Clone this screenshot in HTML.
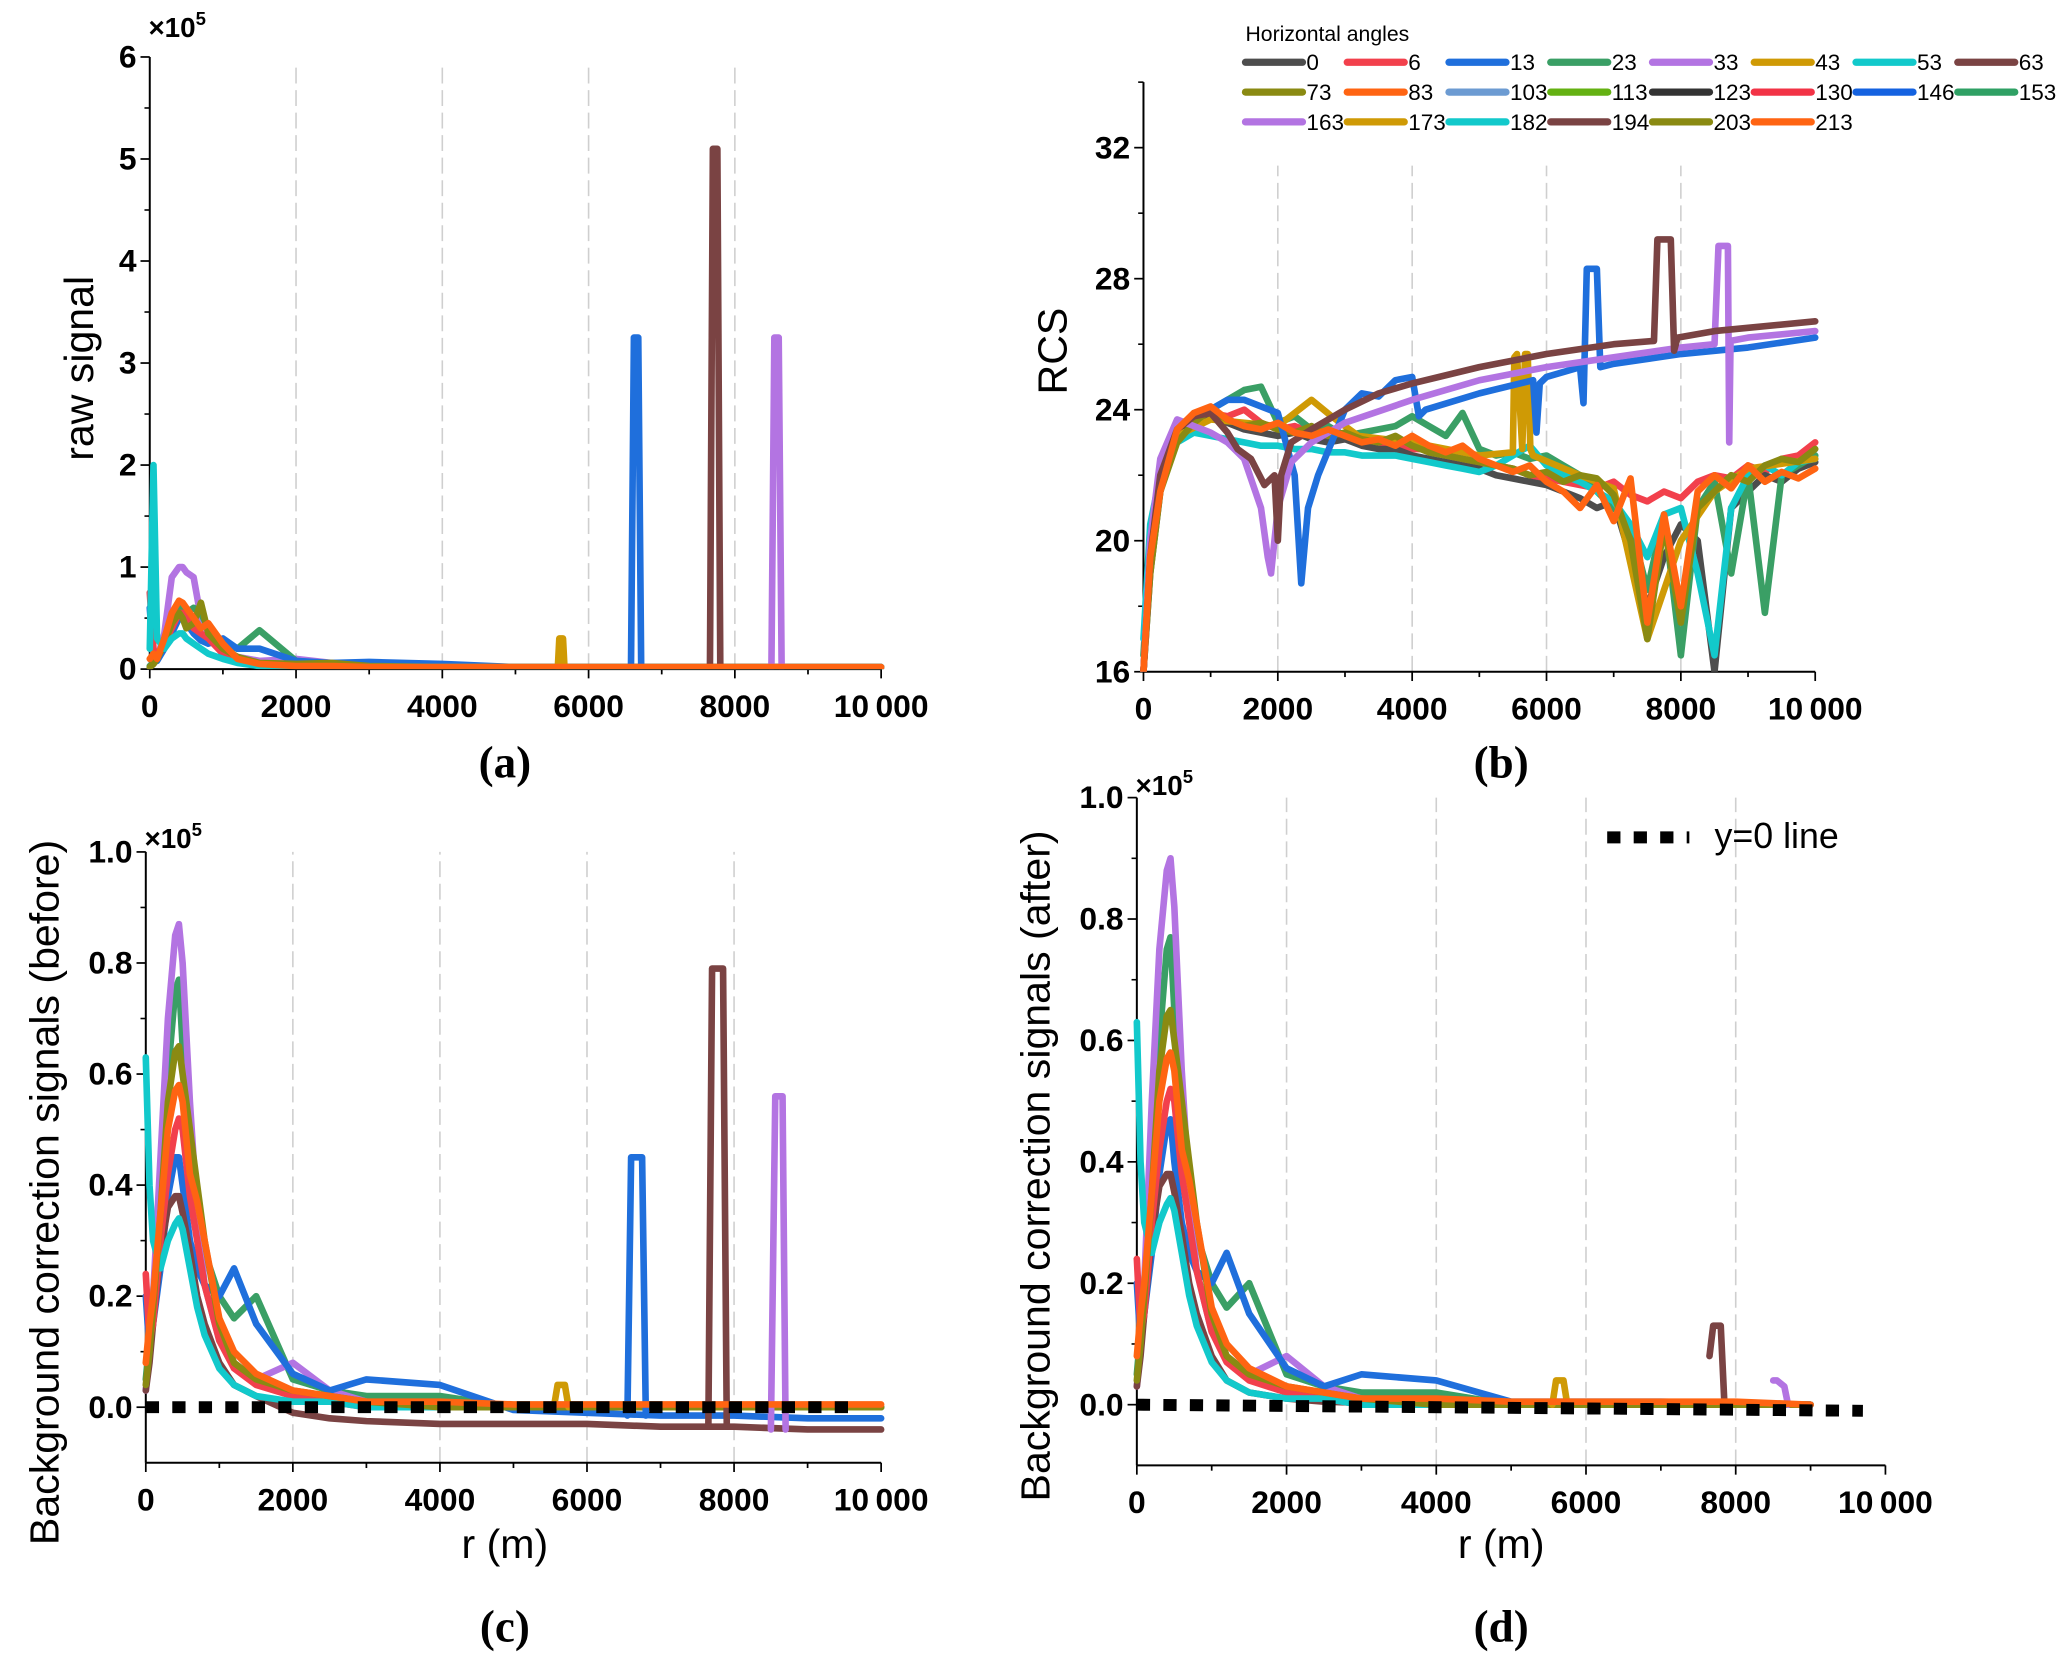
<!DOCTYPE html>
<html><head><meta charset="utf-8"><style>
html,body{margin:0;padding:0;background:#fff;}
svg{display:block;}
</style></head><body>
<svg id="fig" width="2067" height="1662" viewBox="0 0 1560 1254.4" xmlns="http://www.w3.org/2000/svg" font-family="Liberation Sans, sans-serif"></svg>
<script>
// ---------- DATA ----------
const rPeak = [0,50,100,200,300,400,450,500,600,700,800,1000,1200,1500,2000,2500,3000,4000,5000,6000,7000,8000,9000,10000];
const aPurple = [0.02,0.05,0.1,0.35,0.9,1.0,1.0,0.95,0.9,0.5,0.35,0.15,0.12,0.08,0.1,0.06,0.05,0.04,0.02,0.02,0.02,0.02,0.02,0.02];
const aGreen = [0.03,0.06,0.1,0.3,0.5,0.6,0.6,0.55,0.6,0.55,0.4,0.25,0.2,0.38,0.08,0.05,0.04,0.03,0.02,0.02,0.02,0.02,0.02,0.02];
const aOlive = [0.02,0.05,0.1,0.25,0.45,0.55,0.5,0.4,0.45,0.65,0.35,0.2,0.12,0.06,0.05,0.06,0.03,0.02,0.02,0.02,0.02,0.02,0.02,0.02];
const aBlue = [0.6,0.1,0.08,0.2,0.35,0.5,0.5,0.45,0.35,0.28,0.25,0.3,0.2,0.2,0.08,0.06,0.07,0.05,0.02,0.02,0.02,0.02,0.02,0.02];
const aCyan = [0.2,2.0,0.3,0.2,0.3,0.35,0.35,0.3,0.25,0.2,0.15,0.1,0.06,0.03,0.02,0.02,0.02,0.02,0.02,0.02,0.02,0.02,0.02,0.02];
const aRed = [0.75,0.2,0.1,0.25,0.4,0.55,0.55,0.5,0.4,0.35,0.3,0.15,0.08,0.05,0.03,0.02,0.02,0.02,0.02,0.02,0.02,0.02,0.02,0.02];
const aOrange = [0.1,0.15,0.1,0.3,0.55,0.67,0.65,0.6,0.5,0.4,0.45,0.25,0.1,0.05,0.03,0.03,0.02,0.02,0.02,0.02,0.02,0.02,0.02,0.02];
const aSpikeBlueR = [6580,6620,6680,6720], aSpikeBlueV = [0.02,3.25,3.25,0.02];
const aSpikeBrownR = [7660,7700,7760,7800], aSpikeBrownV = [0.02,5.1,5.1,0.02];
const aSpikePurpleR = [8500,8540,8600,8640], aSpikePurpleV = [0.02,3.25,3.25,0.02];
const aSpikeGoldR = [5580,5600,5650,5670], aSpikeGoldV = [0.02,0.3,0.3,0.02];

const rB = [0,100,250,500,750,1000,1250,1500,1750,2000,2250,2500,2750,3000,3250,3500,3750,4000,4250,4500,4750,5000,5250,5500,5750,6000,6250,6500,6750,7000,7250,7500,7750,8000,8250,8500,8750,9000,9250,9500,9750,10000];
const bRed = [16,19.5,21.8,23.5,23.8,23.9,23.8,24.0,23.6,23.4,23.5,23.3,23.2,23.2,23.1,23.0,22.9,22.8,22.8,22.6,22.5,22.4,22.3,22.2,22.0,21.9,21.8,21.7,21.6,21.8,21.4,21.2,21.5,21.3,21.8,22.0,21.9,22.3,22.1,22.5,22.6,23.0];
const bGrey = [16,19,21.5,23.3,23.7,23.9,23.6,23.4,23.3,23.2,23.3,23.1,23.0,23.1,22.9,22.8,22.8,22.6,22.5,22.4,22.3,22.2,22.0,21.9,21.8,21.7,21.5,21.3,21.0,21.2,19.5,18.0,19.5,20.5,20.0,16.0,21.0,21.5,22.0,21.8,22.2,22.4];
const bGreen = [16.5,20,22,23.5,23.8,24.0,24.3,24.6,24.7,23.6,23.8,23.4,23.5,23.2,23.3,23.4,23.5,23.8,23.5,23.2,23.9,22.8,22.6,22.7,22.5,22.6,22.3,22.0,21.5,21.0,20.5,18.5,20.8,16.5,21.0,21.8,19.0,22.0,17.8,22.0,22.3,22.6];
const bCyan = [17,20.5,22,23.0,23.3,23.2,23.1,23.0,22.9,22.9,22.8,22.8,22.7,22.7,22.6,22.6,22.6,22.5,22.4,22.3,22.2,22.1,22.3,22.6,22.9,22.3,22.0,21.8,21.5,21.2,20.5,19.5,20.8,21.0,19.0,16.5,21.0,22.0,22.3,22.0,22.4,22.5];
const bOlive = [16,19,21.5,23.0,23.6,24.0,23.7,23.5,23.6,23.4,23.3,23.5,23.2,23.3,23.1,23.0,23.2,22.9,22.7,22.6,22.5,22.4,22.3,22.2,22.0,22.1,21.8,22.0,21.9,21.4,20.0,17.0,20.5,17.5,21.0,21.5,22.0,21.8,22.3,22.5,22.4,22.8];
const bOrange = [16,19.5,21.5,23.4,23.9,24.1,23.7,23.5,23.4,23.6,23.3,23.2,23.4,23.2,23.0,23.1,22.9,23.2,22.9,22.7,22.9,22.5,22.3,22.1,22.3,21.8,21.5,21.0,21.7,20.6,21.9,17.5,20.8,18.0,21.5,22.0,21.6,22.3,21.8,22.1,21.9,22.2];
const bGoldR = [0,100,250,500,1000,1500,2000,2500,2800,3200,4000,5000,5500,5520,5560,5640,5680,5720,5760,5800,6500,7000,7500,8000,8500,9000,10000];
const bGoldV = [16,19.5,22,23.2,23.7,23.6,23.5,24.3,23.8,23.2,23.0,22.6,22.7,25.6,25.7,22.8,25.7,25.7,22.8,22.6,22.0,21.6,17.0,20.0,21.5,22.2,22.5];
const bBlueR = [0,100,250,500,750,1000,1250,1500,2000,2250,2350,2450,2600,3000,3250,3500,3750,4000,4100,4200,5000,5800,5850,5900,6000,6500,6550,6600,6750,6800,7000,8000,9000,10000];
const bBlueV = [16,19.5,22,23.5,23.8,24.0,24.3,24.3,23.9,22.0,18.7,21.0,22.0,24.0,24.5,24.4,24.9,25.0,23.8,24.0,24.5,24.9,23.3,24.8,25.0,25.3,24.2,28.3,28.3,25.3,25.4,25.7,25.9,26.2];
const bPurpleR = [0,100,250,500,750,1000,1250,1500,1750,1850,1900,2000,2200,2500,3000,4000,5000,6000,7000,8000,8500,8560,8700,8720,8740,9000,10000];
const bPurpleV = [16,20,22.5,23.7,23.5,23.3,23.0,22.5,21.0,19.5,19.0,21.0,22.4,23.0,23.6,24.3,24.9,25.3,25.6,25.9,26.0,29.0,29.0,23.0,26.1,26.2,26.4];
const bBrownR = [0,100,250,500,750,1000,1250,1400,1600,1800,1950,2000,2050,2200,2500,3000,3500,4000,5000,6000,7000,7600,7650,7700,7850,7900,7950,8500,9000,10000];
const bBrownV = [16,19.5,22,23.4,23.8,23.9,23.3,22.8,22.5,21.7,22.0,20.0,22.0,23.0,23.4,24.0,24.5,24.8,25.3,25.7,26.0,26.1,29.2,29.2,29.2,25.8,26.2,26.4,26.5,26.7];

const cPurple = [0.03,0.1,0.2,0.45,0.7,0.85,0.87,0.8,0.55,0.35,0.22,0.12,0.08,0.05,0.08,0.03,0.01,0.0,0,0,0,0,0,0];
const cGreen = [0.05,0.12,0.2,0.4,0.6,0.75,0.77,0.65,0.45,0.33,0.28,0.2,0.16,0.2,0.05,0.03,0.02,0.02,0,0,0,0,0,0];
const cOlive = [0.04,0.1,0.18,0.35,0.55,0.64,0.65,0.6,0.5,0.4,0.3,0.15,0.08,0.05,0.03,0.02,0.01,0,0,0,0,0,0,0];
const cBlue = [0.2,0.1,0.15,0.25,0.38,0.45,0.45,0.4,0.3,0.25,0.22,0.2,0.25,0.15,0.06,0.03,0.05,0.04,-0.005,-0.01,-0.015,-0.015,-0.02,-0.02];
const cBrown = [0.03,0.08,0.15,0.28,0.36,0.38,0.38,0.35,0.28,0.2,0.15,0.08,0.04,0.02,-0.01,-0.02,-0.025,-0.03,-0.03,-0.03,-0.035,-0.035,-0.04,-0.04];
const cCyan = [0.63,0.4,0.3,0.25,0.3,0.33,0.34,0.32,0.25,0.18,0.13,0.07,0.04,0.02,0.01,0.01,0,0,0,0,0,0,0,0];
const cRed = [0.24,0.12,0.15,0.3,0.42,0.5,0.52,0.5,0.38,0.3,0.22,0.12,0.07,0.04,0.02,0.01,0,0,0,0,0,0,0,0];
const cOrange = [0.08,0.15,0.2,0.35,0.5,0.57,0.58,0.55,0.42,0.37,0.3,0.16,0.1,0.06,0.03,0.02,0.01,0.01,0.005,0.005,0.005,0.005,0.005,0.005];
const cSpikeBlueR = [6550,6600,6750,6800], cSpikeBlueV = [-0.015,0.45,0.45,-0.015];
const cSpikeBrownR = [7650,7700,7850,7900], cSpikeBrownV = [-0.035,0.79,0.79,-0.035];
const cSpikePurpleR = [8500,8560,8660,8700], cSpikePurpleV = [-0.04,0.56,0.56,-0.04];
const cSpikeGoldR = [5550,5600,5700,5750], cSpikeGoldV = [0,0.04,0.04,0];
const zeroLineR = [0,9700], cZeroV = [0,0], dZeroV = [0,-0.01];

const rPeakD = [0,50,100,200,300,400,450,500,600,700,800,1000,1200,1500,2000,2500,3000,4000,5000,6000,7000,8000,9000];
const dPurple = [0.03,0.1,0.2,0.5,0.75,0.88,0.9,0.82,0.55,0.35,0.22,0.12,0.08,0.05,0.08,0.03,0.01,0,0,0,0,0,0];
const dGreen = [0.05,0.12,0.2,0.4,0.6,0.75,0.77,0.65,0.45,0.33,0.28,0.2,0.16,0.2,0.05,0.03,0.02,0.02,0,0,0,0,0];
const dOlive = [0.04,0.1,0.18,0.35,0.55,0.64,0.65,0.6,0.5,0.4,0.3,0.15,0.08,0.05,0.03,0.02,0.01,0,0,0,0,0,0];
const dBlue = [0.2,0.1,0.15,0.25,0.38,0.46,0.47,0.4,0.3,0.25,0.22,0.2,0.25,0.15,0.06,0.03,0.05,0.04,0.005,0.005,0.005,0.003,0];
const dBrown = [0.03,0.08,0.15,0.28,0.36,0.38,0.38,0.35,0.28,0.2,0.15,0.08,0.04,0.02,0.01,0.005,0.003,0.002,0.002,0.002,0.002,0.002,0];
const dCyan = [0.63,0.4,0.3,0.25,0.3,0.33,0.34,0.32,0.25,0.18,0.13,0.07,0.04,0.02,0.01,0.01,0,0,0,0,0,0,0];
const dRed = [0.24,0.12,0.15,0.3,0.42,0.5,0.52,0.5,0.38,0.3,0.22,0.12,0.07,0.04,0.02,0.01,0,0,0,0,0,0,0];
const dOrange = [0.08,0.15,0.2,0.35,0.5,0.57,0.58,0.55,0.42,0.37,0.3,0.16,0.1,0.06,0.03,0.02,0.01,0.01,0.005,0.005,0.005,0.005,0];
const dSpikeBrownR = [7650,7700,7800,7850], dSpikeBrownV = [0.08,0.13,0.13,0];
const dSpikePurpleR = [8500,8550,8650,8700], dSpikePurpleV = [0.04,0.04,0.03,0];
const dSpikeGoldR = [5550,5600,5700,5750], dSpikeGoldV = [0,0.04,0.04,0];

const legendAngles = ["0","6","13","23","33","43","53","63","73","83","103","113","123","130","146","153","163","173","182","194","203","213"];
const legendColors = ["#4d4d4d","#f2404c","#1f6fdc","#3a9f65","#b374e2","#cf9a05","#12c9cb","#7a4343","#8a8a12","#ff6412","#6c9bd2","#64b112","#333333","#f23346","#1462e0","#2fa064","#b374e2","#cf9a05","#12c9cb","#7a4343","#8a8a12","#ff6412"];
const xTicks = [0,2000,4000,6000,8000,10000];
const xTickLabels = ["0","2000","4000","6000","8000","10\u2009000"];

// ---------- HELPERS ----------
const NS = "http://www.w3.org/2000/svg";
const svg = document.getElementById("fig");
function mk(tag, attrs, parent) {
  const e = document.createElementNS(NS, tag);
  for (const k in attrs) e.setAttribute(k, attrs[k]);
  (parent || svg).appendChild(e);
  return e;
}
function txt(s, attrs, parent) { const t = mk("text", attrs, parent); t.textContent = s; return t; }

const COL = {grey:"#4d4d4d", red:"#f2404c", blue:"#1f6fdc", green:"#3a9f65", purple:"#b374e2", gold:"#cf9a05", cyan:"#12c9cb", brown:"#7a4343", olive:"#8a8a12", orange:"#ff6412"};

function panel(p) {
  const g = mk("g", {});
  
  
  const sx = v => p.x0 + (v - 0) / 10000 * (p.x1 - p.x0);
  const sy = v => p.yb - (v - p.ymin) / (p.ymax - p.ymin) * (p.yb - p.yt);
  [2000,4000,6000,8000].forEach(v => {
    const l = mk("line", {x1:sx(v), x2:sx(v), y1:p.yb, y2:p.gridTop, stroke:"#cfcfcf", "stroke-width":1.2, "stroke-dasharray":"12,5"}, g);
    
    
  });
  const ya = mk("line", {x1:p.x0, x2:p.x0, y1:p.yb, y2:p.yt, stroke:"#000", "stroke-width":1.5}, g);
  
  
  const xa = mk("line", {x1:p.x0, x2:p.x1, y1:p.yb, y2:p.yb, stroke:"#000", "stroke-width":1.5}, g);
  
  
  for (let v = 0; v <= 10000; v += 1000) {
    const major = v % 2000 === 0;
    mk("line", {x1:sx(v), x2:sx(v), y1:p.yb, y2:p.yb + (major ? 7 : 4), stroke:"#000", "stroke-width":1.3}, g);
  }
  xTicks.forEach((v, i) => {
    const t = txt(xTickLabels[i], {x:sx(v), y:p.yb + 36, "text-anchor":"middle", "font-size":24, "font-weight":"bold"}, g);
    
    
  });
  p.yTicks.forEach((v, i) => {
    mk("line", {x1:p.x0, x2:p.x0 - 7, y1:sy(v), y2:sy(v), stroke:"#000", "stroke-width":1.3}, g);
    const t = txt(p.yLabels[i], {x:p.x0 - 10, y:sy(v) + 8, "text-anchor":"end", "font-size":24, "font-weight":"bold"}, g);
    
    
  });
  p.yMinor.forEach(v => mk("line", {x1:p.x0, x2:p.x0 - 4, y1:sy(v), y2:sy(v), stroke:"#000", "stroke-width":1.2}, g));
  const clipId = "clip-" + p.name;
  const cp = mk("clipPath", {id:clipId}, g);
  mk("rect", {x:p.x0 - 3, y:p.yt - 3, width:p.x1 - p.x0 + 6, height:p.yb - p.yt + 3}, cp);
  const sg = mk("g", {"clip-path":"url(#" + clipId + ")"}, g);
  p.series.forEach(s => {
    const d = s.r.map((r, i) => (i ? "L" : "M") + sx(r).toFixed(1) + "," + sy(s.v[i]).toFixed(1)).join("");
    const path = mk("path", {d:d, fill:"none", stroke:s.c, "stroke-width":s.w || 5, "stroke-linejoin":"round", "stroke-linecap":"round"}, sg);
    if (s.dash) { path.setAttribute("stroke-dasharray", s.dash); path.setAttribute("stroke-linecap", "butt"); }
    
    
  });
  return g;
}

// ---------- PANELS ----------
panel({name:"panel-a", x0:113, x1:665, yb:505, yt:43, gridTop:50, ymin:0, ymax:6,
  yTicks:[0,1,2,3,4,5,6], yLabels:["0","1","2","3","4","5","6"], yMinor:[0.5,1.5,2.5,3.5,4.5,5.5],
  series:[
    {n:"series-33", r:rPeak, v:aPurple, c:COL.purple},
    {n:"series-23", r:rPeak, v:aGreen, c:COL.green},
    {n:"series-13", r:rPeak, v:aBlue, c:COL.blue},
    {n:"series-6", r:rPeak, v:aRed, c:COL.red},
    {n:"series-73", r:rPeak, v:aOlive, c:COL.olive},
    {n:"series-53", r:rPeak, v:aCyan, c:COL.cyan},
    {n:"spike-43", r:aSpikeGoldR, v:aSpikeGoldV, c:COL.gold},
    {n:"spike-13", r:aSpikeBlueR, v:aSpikeBlueV, c:COL.blue},
    {n:"spike-63", r:aSpikeBrownR, v:aSpikeBrownV, c:COL.brown},
    {n:"spike-163", r:aSpikePurpleR, v:aSpikePurpleV, c:COL.purple},
    {n:"series-83", r:rPeak, v:aOrange, c:COL.orange}
  ]});

panel({name:"panel-b", x0:863, x1:1370, yb:507, yt:62, gridTop:125, ymin:16, ymax:34,
  yTicks:[16,20,24,28,32], yLabels:["16","20","24","28","32"], yMinor:[18,22,26,30,34],
  series:[
    {n:"series-6", r:rB, v:bRed, c:COL.red},
    {n:"series-0", r:rB, v:bGrey, c:COL.grey},
    {n:"series-23", r:rB, v:bGreen, c:COL.green},
    {n:"series-53", r:rB, v:bCyan, c:COL.cyan},
    {n:"series-43", r:bGoldR, v:bGoldV, c:COL.gold},
    {n:"series-73", r:rB, v:bOlive, c:COL.olive},
    {n:"series-13", r:bBlueR, v:bBlueV, c:COL.blue},
    {n:"series-33", r:bPurpleR, v:bPurpleV, c:COL.purple},
    {n:"series-63", r:bBrownR, v:bBrownV, c:COL.brown},
    {n:"series-83", r:rB, v:bOrange, c:COL.orange}
  ]});

panel({name:"panel-c", x0:110, x1:665, yb:1104, yt:643, gridTop:643, ymin:-0.1, ymax:1.0,
  yTicks:[0,0.2,0.4,0.6,0.8,1.0], yLabels:["0.0","0.2","0.4","0.6","0.8","1.0"], yMinor:[0.1,0.3,0.5,0.7,0.9],
  series:[
    {n:"series-23", r:rPeak, v:cGreen, c:COL.green},
    {n:"series-33", r:rPeak, v:cPurple, c:COL.purple},
    {n:"series-13", r:rPeak, v:cBlue, c:COL.blue},
    {n:"series-63", r:rPeak, v:cBrown, c:COL.brown},
    {n:"series-6", r:rPeak, v:cRed, c:COL.red},
    {n:"series-53", r:rPeak, v:cCyan, c:COL.cyan},
    {n:"series-73", r:rPeak, v:cOlive, c:COL.olive},
    {n:"spike-43", r:cSpikeGoldR, v:cSpikeGoldV, c:COL.gold},
    {n:"spike-13", r:cSpikeBlueR, v:cSpikeBlueV, c:COL.blue},
    {n:"spike-63", r:cSpikeBrownR, v:cSpikeBrownV, c:COL.brown},
    {n:"spike-163", r:cSpikePurpleR, v:cSpikePurpleV, c:COL.purple},
    {n:"series-83", r:rPeak, v:cOrange, c:COL.orange},
    {n:"zero-line", r:zeroLineR, v:cZeroV, c:"#000", w:9, dash:"10,10"}
  ]});

panel({name:"panel-d", x0:858, x1:1423, yb:1106, yt:602, gridTop:602, ymin:-0.1, ymax:1.0,
  yTicks:[0,0.2,0.4,0.6,0.8,1.0], yLabels:["0.0","0.2","0.4","0.6","0.8","1.0"], yMinor:[0.1,0.3,0.5,0.7,0.9],
  series:[
    {n:"series-23", r:rPeakD, v:dGreen, c:COL.green},
    {n:"series-33", r:rPeakD, v:dPurple, c:COL.purple},
    {n:"series-13", r:rPeakD, v:dBlue, c:COL.blue},
    {n:"series-63", r:rPeakD, v:dBrown, c:COL.brown},
    {n:"series-6", r:rPeakD, v:dRed, c:COL.red},
    {n:"series-53", r:rPeakD, v:dCyan, c:COL.cyan},
    {n:"series-73", r:rPeakD, v:dOlive, c:COL.olive},
    {n:"spike-43", r:dSpikeGoldR, v:dSpikeGoldV, c:COL.gold},
    {n:"spike-63", r:dSpikeBrownR, v:dSpikeBrownV, c:COL.brown},
    {n:"spike-163", r:dSpikePurpleR, v:dSpikePurpleV, c:COL.purple},
    {n:"series-83", r:rPeakD, v:dOrange, c:COL.orange},
    {n:"zero-line", r:zeroLineR, v:dZeroV, c:"#000", w:9, dash:"10,10"}
  ]});

// ---------- TEXT ----------
function sci(x, y, name) {
  const t = txt("\u00d710", {x:x, y:y, "font-size":21, "font-weight":"bold"});
  
  
  const s = mk("tspan", {dy:-9, "font-size":14}, t); s.textContent = "5";
}
sci(112, 28, "y-scale-a");
sci(109, 640, "y-scale-c");
sci(857, 600, "y-scale-d");

function rotTitle(s, x, y, name) {
  const t = txt(s, {x:x, y:y, "font-size":31, "text-anchor":"middle", transform:"rotate(-90 " + x + " " + y + ")"});
  
  
}
rotTitle("raw signal", 70, 278, "y-axis-title-a");
rotTitle("RCS", 805, 265, "y-axis-title-b");
rotTitle("Background correction signals (before)", 44, 900, "y-axis-title-c");
rotTitle("Background correction signals (after)", 792, 880, "y-axis-title-d");

function xTitle(x, name) {
  const t = txt("r (m)", {x:x, y:1176, "font-size":31, "text-anchor":"middle"});
  
  
}
xTitle(381, "x-axis-title-c");
xTitle(1133, "x-axis-title-d");

function plabel(s, x, y, name) {
  const t = txt(s, {x:x, y:y, "text-anchor":"middle", style:"font-family:'Liberation Serif',serif;font-size:34px;font-weight:bold"});
  
  
}
plabel("(a)", 381, 587, "panel-label-a");
plabel("(b)", 1133, 587, "panel-label-b");
plabel("(c)", 381, 1239, "panel-label-c");
plabel("(d)", 1133, 1239, "panel-label-d");

const lg = mk("g", {});


const lt = txt("Horizontal angles", {x:940, y:31, "font-size":16}, lg);


legendAngles.forEach((a, i) => {
  const col = i % 8, row = Math.floor(i / 8);
  const x = 940 + col * 76.8, y = 47 + row * 22.5;
  const e = mk("g", {}, lg);
  
  
  mk("line", {x1:x, x2:x + 43, y1:y, y2:y, stroke:legendColors[i], "stroke-width":5.5, "stroke-linecap":"round"}, e);
  txt(a, {x:x + 46, y:y + 6, "font-size":17}, e);
});

const ld = mk("g", {});


mk("line", {x1:1213, x2:1275, y1:632, y2:632, stroke:"#000", "stroke-width":9, "stroke-dasharray":"10,10"}, ld);
txt("y=0 line", {x:1294, y:640, "font-size":27}, ld);
</script>
</body></html>
